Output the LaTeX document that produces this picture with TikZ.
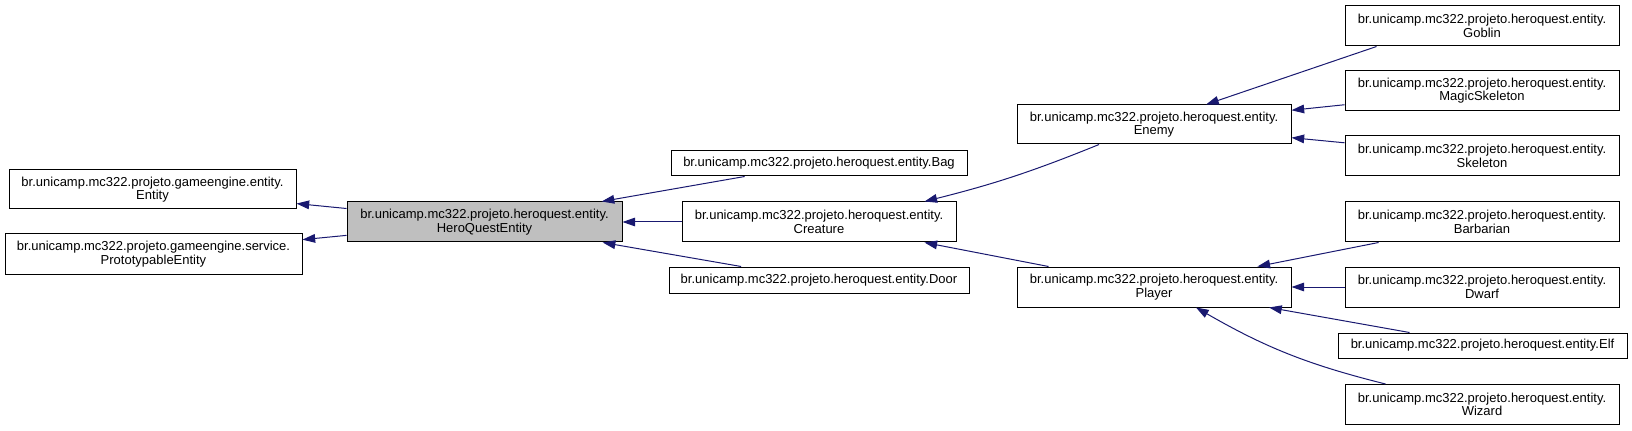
\documentclass[tikz,border=0pt]{standalone}
\usepackage{fontspec}
\setmainfont{Liberation Sans}
\usetikzlibrary{arrows.meta}
\definecolor{edgeblue}{HTML}{191970}
\begin{document}
\begin{tikzpicture}[x=0.75pt, y=-0.75pt,
    cls/.style={draw=black, fill=white, line width=0.75pt, align=center, inner sep=0pt,
        font=\fontsize{9.75pt}{10pt}\selectfont, minimum width=205.5pt, minimum height=30pt},
    one/.style={cls, minimum height=18.75pt},
    root/.style={cls, fill=black!25},
    inh/.style={draw=edgeblue, line width=0.75pt, -{Triangle[length=9.5pt, width=6.5pt]}}]
\useasboundingbox (0, 0) rectangle (1632, 431);
% base classes
\node[cls, minimum width=215.25pt, minimum height=29.25pt] (entity) at (152.5, 189.5)
    {br.unicamp.mc322.projeto.gameengine.entity.\\Entity};
\node[cls, minimum width=222.75pt] (proto) at (153.5, 254)
    {br.unicamp.mc322.projeto.gameengine.service.\\PrototypableEntity};
\node[root, minimum width=206.25pt] (hqe) at (484.5, 222)
    {br.unicamp.mc322.projeto.heroquest.entity.\\HeroQuestEntity};
% second column
\node[one, minimum width=222pt] (bag) at (819, 163.5) {br.unicamp.mc322.projeto.heroquest.entity.Bag};
\node[cls] (creature) at (819, 222) {br.unicamp.mc322.projeto.heroquest.entity.\\Creature};
\node[one, minimum width=225pt, minimum height=19.5pt] (door) at (819, 280) {br.unicamp.mc322.projeto.heroquest.entity.Door};
% third column
\node[cls, minimum height=29.25pt] (enemy) at (1154, 124.5) {br.unicamp.mc322.projeto.heroquest.entity.\\Enemy};
\node[cls] (player) at (1154, 287) {br.unicamp.mc322.projeto.heroquest.entity.\\Player};
% leaves
\node[cls] (goblin) at (1482, 26) {br.unicamp.mc322.projeto.heroquest.entity.\\Goblin};
\node[cls] (mskel) at (1482, 90.5) {br.unicamp.mc322.projeto.heroquest.entity.\\MagicSkeleton};
\node[cls] (skel) at (1482, 156) {br.unicamp.mc322.projeto.heroquest.entity.\\Skeleton};
\node[cls] (barb) at (1482, 222) {br.unicamp.mc322.projeto.heroquest.entity.\\Barbarian};
\node[cls] (dwarf) at (1482, 287) {br.unicamp.mc322.projeto.heroquest.entity.\\Dwarf};
\node[one, minimum width=216.75pt] (elf) at (1482.5, 345.5) {br.unicamp.mc322.projeto.heroquest.entity.Elf};
\node[cls] (wizard) at (1482, 404.5) {br.unicamp.mc322.projeto.heroquest.entity.\\Wizard};
% inheritance
\draw[inh] (hqe) -- (entity);
\draw[inh] (hqe) -- (proto);
\draw[inh] (bag) -- (hqe);
\draw[inh] (creature) -- (hqe);
\draw[inh] (door) -- (hqe);
\draw[inh] (enemy.200) to[bend left=4] (creature.11);
\draw[inh] (player.169) -- (creature.-11);
\draw[inh] (goblin.191) -- (enemy.21);
\draw[inh] (mskel) -- (enemy);
\draw[inh] (skel) -- (enemy);
\draw[inh] (barb) -- (player);
\draw[inh] (dwarf) -- (player);
\draw[inh] (elf) -- (player);
\draw[inh] (wizard.168) to[bend left=8] (player.-26);
\end{tikzpicture}
\end{document}
